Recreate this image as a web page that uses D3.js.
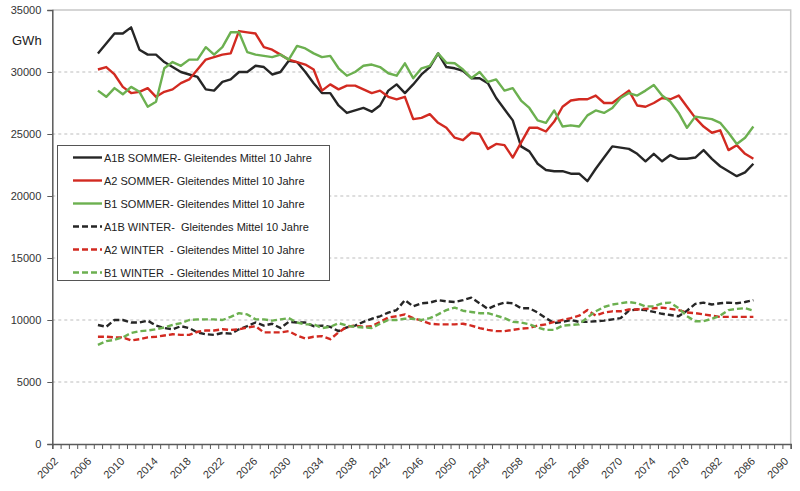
<!DOCTYPE html>
<html>
<head>
<meta charset="utf-8">
<script src="https://cdn.jsdelivr.net/npm/d3@7"></script>
<style>
  body { margin: 0; background: #fff; }
  svg { display: block; font-family: Arial, "Liberation Sans", sans-serif; }
</style>
</head>
<body>
<svg id="chart" width="800" height="491"></svg>
<script>
// years of the moving averages (one value per year)
var years = d3.range(2007, 2087);
var labelYears = d3.range(2002, 2091, 4);
var yTicks = [0, 5000, 10000, 15000, 20000, 25000, 30000, 35000];

var a1bSommer = [31500, 32300, 33100, 33100, 33600, 31800, 31400, 31400, 30800, 30400,
                 30000, 29800, 29600, 28600, 28500, 29200, 29400, 30000, 30000, 30500,
                 30400, 29800, 30000, 30900, 30800, 30000, 29100, 28300, 28300, 27300,
                 26700, 26900, 27100, 26800, 27300, 28500, 29000, 28300, 29000, 29800,
                 30400, 31500, 30400, 30300, 30100, 29500, 29500, 29100, 27900, 27000,
                 26100, 24000, 23600, 22600, 22100, 22000, 22000, 21800, 21800, 21200,
                 22200, 23100, 24000, 23900, 23800, 23400, 22800, 23400, 22800, 23300,
                 23000, 23000, 23100, 23700, 23000, 22400, 22000, 21600, 21900, 22600];
var a2Sommer = [30200, 30400, 29800, 28800, 28300, 28400, 28700, 28000, 28400, 28600,
                29100, 29400, 30200, 31000, 31200, 31400, 31500, 33300, 33200, 33100,
                32000, 31800, 31400, 31000, 30800, 30600, 30200, 28500, 29000, 28600,
                28900, 28900, 28600, 28300, 28500, 28000, 27800, 28000, 26200, 26300,
                26600, 25900, 25500, 24700, 24500, 25100, 25000, 23800, 24200, 24100,
                23100, 24300, 25500, 25500, 25200, 26000, 27200, 27700, 27800, 27800,
                28100, 27500, 27500, 28000, 28500, 27300, 27200, 27500, 27900, 27800,
                28100, 27200, 26300, 25600, 25100, 25300, 23700, 24100, 23400, 23000];
var b1Sommer = [28500, 28000, 28700, 28200, 28800, 28400, 27200, 27600, 30300, 30800,
                30500, 31000, 31000, 32000, 31400, 32000, 33200, 33200, 31600, 31400,
                31300, 31200, 31400, 31000, 32100, 31900, 31500, 31200, 31300, 30300,
                29700, 30000, 30500, 30600, 30400, 29900, 29700, 30700, 29500, 30300,
                30500, 31500, 30750, 30700, 30200, 29500, 30000, 29200, 29400, 28500,
                28700, 27700, 27100, 26100, 25900, 26900, 25600, 25700, 25600, 26500,
                26900, 26700, 27100, 27900, 28300, 28100, 28500, 28950, 28100, 27600,
                26700, 25500, 26400, 26300, 26200, 25900, 25100, 24200, 24700, 25600];
var a1bWinter = [9600, 9450, 10000, 10000, 9800, 9800, 9950, 9550, 9350, 9250,
                 9500, 9350, 9000, 8850, 8800, 8950, 8900, 9250, 9500, 9800,
                 9550, 9700, 9350, 9850, 9800, 9800, 9500, 9550, 9450, 9100,
                 9400, 9550, 9850, 10100, 10300, 10600, 10800, 11600, 11100, 11350,
                 11400, 11600, 11500, 11450, 11600, 11800, 11350, 10900, 11200, 11400,
                 11350, 10950, 10950, 10600, 10150, 9750, 9850, 10000, 9850, 9850,
                 9900, 9950, 10050, 10150, 10750, 10850, 10800, 10650, 10500, 10400,
                 10300, 10750, 11300, 11400, 11250, 11350, 11400, 11350, 11450, 11600];
var a2Winter = [8650, 8650, 8600, 8600, 8350, 8450, 8600, 8650, 8750, 8850,
                8800, 8800, 9050, 9150, 9150, 9250, 9200, 9250, 9400, 9500,
                9000, 9000, 9000, 9100, 8750, 8500, 8650, 8700, 8450, 9000,
                9450, 9550, 9450, 9500, 9850, 10200, 10300, 10450, 10150, 9950,
                9700, 9650, 9650, 9650, 9700, 9550, 9350, 9200, 9100, 9100,
                9200, 9300, 9350, 9550, 9650, 9850, 10000, 10150, 10350, 10800,
                10350, 10600, 10700, 10700, 10850, 10850, 10900, 10950, 11000, 10900,
                10800, 10600, 10550, 10450, 10350, 10250, 10250, 10250, 10250, 10250];
var b1Winter = [8000, 8300, 8400, 8600, 8950, 9100, 9150, 9250, 9400, 9600,
                9750, 10000, 10050, 10050, 10050, 10000, 10250, 10550, 10450, 10050,
                10050, 9950, 10050, 10150, 9800, 9650, 9650, 9350, 9450, 9750,
                9550, 9450, 9400, 9350, 9700, 10000, 10000, 10100, 10100, 10000,
                10150, 10450, 10800, 11000, 10750, 10650, 10550, 10550, 10350, 10150,
                9850, 9800, 9650, 9400, 9200, 9200, 9550, 9600, 9650, 10200,
                10700, 11050, 11250, 11350, 11450, 11350, 11100, 11100, 11350, 11400,
                10950, 10300, 9900, 9900, 10100, 10350, 10800, 10900, 10950, 10750];

var seriesNames = [
    'A1B SOMMER- Gleitendes Mittel 10 Jahre',
    'A2 SOMMER- Gleitendes Mittel 10 Jahre',
    'B1 SOMMER- Gleitendes Mittel 10 Jahre',
    'A1B WINTER-  Gleitendes Mittel 10 Jahre',
    'A2 WINTER  - Gleitendes Mittel 10 Jahre',
    'B1 WINTER  - Gleitendes Mittel 10 Jahre'
];
var seriesValues = [a1bSommer, a2Sommer, b1Sommer, a1bWinter, a2Winter, b1Winter];
var seriesColors = ['#262626', '#d22a21', '#6cb050', '#262626', '#d22a21', '#6cb050'];
var seriesDashed = [false, false, false, true, true, true];

var svg = d3.select('#chart');
var plotLeft = 52.3, plotRight = 790.7, plotTop = 10, plotBottom = 444;

// category axis: each year is a slot, points sit in the middle of the slot
var x = d3.scaleLinear().domain([2001.5, 2090.5]).range([plotLeft, plotRight]);
var y = d3.scaleLinear().domain([0, 35000]).range([plotBottom, plotTop]);

// gridlines
svg.append('g')
    .selectAll('line')
    .data(yTicks.filter(function(d) { return d > 0 && d < 35000; }))
    .enter()
    .append('line')
    .attr('x1', plotLeft).attr('x2', plotRight)
    .attr('y1', function(d) { return y(d); })
    .attr('y2', function(d) { return y(d); })
    .attr('stroke', '#bdbdbd')
    .attr('stroke-width', 1)
    .attr('stroke-dasharray', '3,3');

// plot frame (top and right)
svg.append('path')
    .attr('d', 'M' + plotLeft + ',' + plotTop + 'H' + plotRight + 'V' + plotBottom)
    .attr('fill', 'none')
    .attr('stroke', '#c8c8c8')
    .attr('stroke-width', 1.5);

// y axis
var yAxis = svg.append('g')
    .attr('transform', 'translate(' + plotLeft + ',0)')
    .call(d3.axisLeft(y).tickValues(yTicks).tickSize(5).tickPadding(6).tickFormat(d3.format('d')));
yAxis.selectAll('text').attr('font-size', 11).attr('fill', '#333');
yAxis.attr('font-family', null);

// x axis: tick marks between the years
var xAxis = svg.append('g')
    .attr('transform', 'translate(0,' + plotBottom + ')')
    .call(d3.axisBottom(x).tickValues(d3.range(2001.5, 2091, 1)).tickSize(5).tickFormat(''));

svg.selectAll('.domain').attr('stroke', '#5a5a5a').attr('stroke-width', 1.5);
svg.selectAll('.tick line').attr('stroke', '#5a5a5a').attr('stroke-width', 1);

// rotated year labels
svg.append('g')
    .selectAll('text')
    .data(labelYears)
    .enter()
    .append('text')
    .attr('transform', function(d) { return 'translate(' + (x(d) + 2.5) + ',462) rotate(-45)'; })
    .attr('text-anchor', 'end')
    .attr('font-size', 11)
    .attr('fill', '#333')
    .text(function(d) { return d; });

// unit label
svg.append('text')
    .attr('x', 12).attr('y', 45)
    .attr('font-size', 13)
    .attr('fill', '#222')
    .text('GWh');

// lines
var line = d3.line()
    .x(function(d, i) { return x(years[i]); })
    .y(function(d) { return y(d); });

// winter first, summer on top
[3, 4, 5, 0, 1, 2].forEach(function(k) {
    svg.append('path')
        .datum(seriesValues[k])
        .attr('fill', 'none')
        .attr('stroke', seriesColors[k])
        .attr('stroke-width', 2.4)
        .attr('stroke-linejoin', 'round')
        .attr('stroke-dasharray', seriesDashed[k] ? '6,3' : null)
        .attr('d', line);
});

// legend
var legend = svg.append('g');
legend.append('rect')
    .attr('x', 57.5).attr('y', 145.5)
    .attr('width', 272).attr('height', 135)
    .attr('fill', '#fff')
    .attr('stroke', '#555')
    .attr('stroke-width', 1);

var rows = legend.selectAll('.leg-row')
    .data(seriesNames)
    .enter()
    .append('g')
    .attr('class', 'leg-row')
    .attr('transform', function(d, i) { return 'translate(0,' + (157.5 + i * 23) + ')'; });
rows.append('line')
    .attr('x1', 73).attr('x2', 102)
    .attr('stroke', function(d, i) { return seriesColors[i]; })
    .attr('stroke-width', 2.4)
    .attr('stroke-dasharray', function(d, i) { return seriesDashed[i] ? '6,3' : null; });
rows.append('text')
    .attr('x', 104).attr('y', 4)
    .attr('font-size', 11)
    .attr('fill', '#222')
    .style('white-space', 'pre')
    .text(function(d) { return d; });
</script>
</body>
</html>
